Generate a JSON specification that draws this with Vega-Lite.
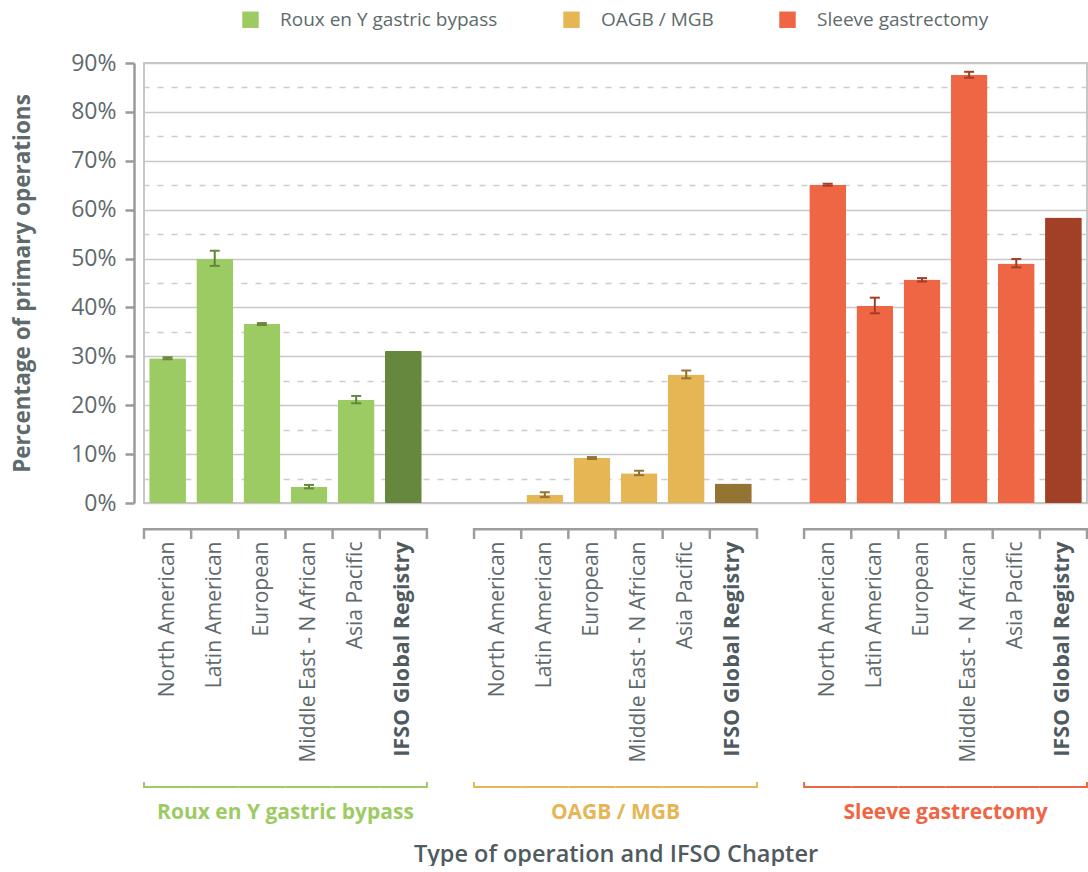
{
  "$schema": "https://vega.github.io/schema/vega-lite/v6.json",
  "background": "white",
  "padding": {"left": 10, "top": 10, "right": 0, "bottom": 0},
  "config": {"font": "Open Sans", "view": {"stroke": null}},
  "spacing": 10,
  "datasets": {
    "ops": [
      {"op": "Roux en Y gastric bypass", "chapter": "North American", "slot": "Roux en Y gastric bypass|North American", "value": 29.6, "lo": 29.4, "hi": 29.8},
      {"op": "Roux en Y gastric bypass", "chapter": "Latin American", "slot": "Roux en Y gastric bypass|Latin American", "value": 49.9, "lo": 48.5, "hi": 51.6},
      {"op": "Roux en Y gastric bypass", "chapter": "European", "slot": "Roux en Y gastric bypass|European", "value": 36.6, "lo": 36.4, "hi": 36.8},
      {"op": "Roux en Y gastric bypass", "chapter": "Middle East - N African", "slot": "Roux en Y gastric bypass|Middle East - N African", "value": 3.3, "lo": 3.0, "hi": 3.7},
      {"op": "Roux en Y gastric bypass", "chapter": "Asia Pacific", "slot": "Roux en Y gastric bypass|Asia Pacific", "value": 21.1, "lo": 20.4, "hi": 21.9},
      {"op": "Roux en Y gastric bypass", "chapter": "IFSO Global Registry", "slot": "Roux en Y gastric bypass|IFSO Global Registry", "value": 31.1, "lo": null, "hi": null},
      {"op": "OAGB / MGB", "chapter": "North American", "slot": "OAGB / MGB|North American", "value": 0, "lo": null, "hi": null},
      {"op": "OAGB / MGB", "chapter": "Latin American", "slot": "OAGB / MGB|Latin American", "value": 1.7, "lo": 1.2, "hi": 2.2},
      {"op": "OAGB / MGB", "chapter": "European", "slot": "OAGB / MGB|European", "value": 9.2, "lo": 9.0, "hi": 9.4},
      {"op": "OAGB / MGB", "chapter": "Middle East - N African", "slot": "OAGB / MGB|Middle East - N African", "value": 6.1, "lo": 5.7, "hi": 6.6},
      {"op": "OAGB / MGB", "chapter": "Asia Pacific", "slot": "OAGB / MGB|Asia Pacific", "value": 26.3, "lo": 25.5, "hi": 27.1},
      {"op": "OAGB / MGB", "chapter": "IFSO Global Registry", "slot": "OAGB / MGB|IFSO Global Registry", "value": 4.0, "lo": null, "hi": null},
      {"op": "Sleeve gastrectomy", "chapter": "North American", "slot": "Sleeve gastrectomy|North American", "value": 65.1, "lo": 64.9, "hi": 65.3},
      {"op": "Sleeve gastrectomy", "chapter": "Latin American", "slot": "Sleeve gastrectomy|Latin American", "value": 40.3, "lo": 38.8, "hi": 42.0},
      {"op": "Sleeve gastrectomy", "chapter": "European", "slot": "Sleeve gastrectomy|European", "value": 45.7, "lo": 45.3, "hi": 46.0},
      {"op": "Sleeve gastrectomy", "chapter": "Middle East - N African", "slot": "Sleeve gastrectomy|Middle East - N African", "value": 87.6, "lo": 87.0, "hi": 88.2},
      {"op": "Sleeve gastrectomy", "chapter": "Asia Pacific", "slot": "Sleeve gastrectomy|Asia Pacific", "value": 49.0, "lo": 48.2, "hi": 49.9},
      {"op": "Sleeve gastrectomy", "chapter": "IFSO Global Registry", "slot": "Sleeve gastrectomy|IFSO Global Registry", "value": 58.4, "lo": null, "hi": null}
    ]
  },
  "vconcat": [
    {
      "width": 943,
      "height": 440,
      "view": {"stroke": "#c6c6c6", "strokeWidth": 2},
      "data": {"name": "ops"},
      "resolve": {"axis": {"y": "independent"}},
      "layer": [
        {
          "transform": [{"filter": "datum.chapter !== 'IFSO Global Registry'"}],
          "mark": {"type": "bar", "cornerRadius": 1},
          "encoding": {
            "x": {"field": "slot", "type": "nominal", "axis": null, "scale": {"paddingInner": 0.22, "paddingOuter": 0.11, "domain": ["Roux en Y gastric bypass|North American", "Roux en Y gastric bypass|Latin American", "Roux en Y gastric bypass|European", "Roux en Y gastric bypass|Middle East - N African", "Roux en Y gastric bypass|Asia Pacific", "Roux en Y gastric bypass|IFSO Global Registry", "gap1", "OAGB / MGB|North American", "OAGB / MGB|Latin American", "OAGB / MGB|European", "OAGB / MGB|Middle East - N African", "OAGB / MGB|Asia Pacific", "OAGB / MGB|IFSO Global Registry", "gap2", "Sleeve gastrectomy|North American", "Sleeve gastrectomy|Latin American", "Sleeve gastrectomy|European", "Sleeve gastrectomy|Middle East - N African", "Sleeve gastrectomy|Asia Pacific", "Sleeve gastrectomy|IFSO Global Registry"]}},
            "y": {
              "field": "value", "type": "quantitative",
              "scale": {"domain": [0, 90], "nice": false},
              "axis": {
                "title": "Percentage of primary operations",
                "values": [0, 10, 20, 30, 40, 50, 60, 70, 80, 90],
                "labelExpr": "datum.value + '%'",
                "offset": 10,
                "domainColor": "#9a9a9a", "domainWidth": 2.5,
                "tickColor": "#9a9a9a", "tickWidth": 2.5, "tickSize": 9,
                "grid": true, "gridColor": "#c8c8c8", "gridWidth": 1.5,
                "labelFontSize": 23, "labelColor": "#5e6a6b", "labelPadding": 9,
                "titleFontSize": 22.5, "titleFontWeight": "bold", "titleColor": "#5e6a6b", "titlePadding": 36
              }
            },
            "color": {
              "field": "op", "type": "nominal",
              "scale": {"domain": ["Roux en Y gastric bypass", "OAGB / MGB", "Sleeve gastrectomy"], "range": ["#9dcb63", "#e6b654", "#ef6644"]},
              "legend": {"orient": "none", "legendX": 97, "legendY": -53, "direction": "horizontal", "title": null, "symbolType": "square", "symbolSize": 270, "symbolStrokeWidth": 0, "symbolOpacity": 1, "labelFontSize": 19, "labelColor": "#5e6a6b", "labelOffset": 20, "columnPadding": 64, "labelLimit": 400}
            }
          }
        },
        {
          "transform": [{"filter": "datum.chapter === 'IFSO Global Registry'"}],
          "mark": {"type": "bar", "cornerRadius": 1},
          "encoding": {
            "x": {"field": "slot", "type": "nominal", "axis": null},
            "y": {"field": "value", "type": "quantitative",
              "axis": {"title": null, "values": [5, 15, 25, 35, 45, 55, 65, 75, 85], "labels": false, "ticks": false, "domain": false, "grid": true, "gridDash": [6, 8], "gridColor": "#cccccc", "gridWidth": 1.5, "offset": 10}},
            "fill": {"field": "op", "type": "nominal", "scale": {"domain": ["Roux en Y gastric bypass", "OAGB / MGB", "Sleeve gastrectomy"], "range": ["#66883e", "#937433", "#a13f27"]}, "legend": null}
          }
        },
        {
          "transform": [{"filter": "isValid(datum.lo)"}],
          "mark": {"type": "rule", "strokeWidth": 2},
          "encoding": {
            "x": {"field": "slot", "type": "nominal", "axis": null},
            "y": {"field": "lo", "type": "quantitative", "axis": null},
            "y2": {"field": "hi"},
            "stroke": {"field": "op", "type": "nominal", "scale": {"domain": ["Roux en Y gastric bypass", "OAGB / MGB", "Sleeve gastrectomy"], "range": ["#5e8137", "#8d6e2e", "#a13d25"]}, "legend": null}
          }
        },
        {
          "transform": [{"filter": "isValid(datum.lo)"}],
          "mark": {"type": "tick", "thickness": 2, "size": 10, "opacity": 1},
          "encoding": {
            "x": {"field": "slot", "type": "nominal", "axis": null},
            "y": {"field": "hi", "type": "quantitative", "axis": null},
            "fill": {"field": "op", "type": "nominal", "legend": null}
          }
        },
        {
          "transform": [{"filter": "isValid(datum.lo)"}],
          "mark": {"type": "tick", "thickness": 2, "size": 10, "opacity": 1},
          "encoding": {
            "x": {"field": "slot", "type": "nominal", "axis": null},
            "y": {"field": "lo", "type": "quantitative", "axis": null},
            "fill": {"field": "op", "type": "nominal", "legend": null}
          }
        }
      ]
    },
    {
      "width": 943,
      "height": 11,
      "data": {"name": "ops"},
      "layer": [
        {
          "mark": {"type": "rect", "color": "#9d9d9d"},
          "encoding": {
            "x": {"field": "slot", "type": "nominal", "title": null,
              "scale": {"paddingInner": 0, "paddingOuter": 0, "domain": ["Roux en Y gastric bypass|North American", "Roux en Y gastric bypass|Latin American", "Roux en Y gastric bypass|European", "Roux en Y gastric bypass|Middle East - N African", "Roux en Y gastric bypass|Asia Pacific", "Roux en Y gastric bypass|IFSO Global Registry", "gap1", "OAGB / MGB|North American", "OAGB / MGB|Latin American", "OAGB / MGB|European", "OAGB / MGB|Middle East - N African", "OAGB / MGB|Asia Pacific", "OAGB / MGB|IFSO Global Registry", "gap2", "Sleeve gastrectomy|North American", "Sleeve gastrectomy|Latin American", "Sleeve gastrectomy|European", "Sleeve gastrectomy|Middle East - N African", "Sleeve gastrectomy|Asia Pacific", "Sleeve gastrectomy|IFSO Global Registry"]},
              "axis": {
                "title": null, "domain": false, "ticks": false, "grid": false,
                "labelAngle": -90, "labelAlign": "right", "labelBaseline": "middle",
                "labelPadding": 2, "labelLimit": 400, "labelOverlap": false,
                "labelExpr": "indexof(datum.value, '|') >= 0 ? split(datum.value, '|')[1] : ''",
                "labelFontSize": {"condition": {"test": "indexof(datum.value, 'IFSO Global') >= 0", "value": 21.5}, "value": 21},
                "labelColor": {"condition": {"test": "indexof(datum.value, 'IFSO Global') >= 0", "value": "#4f5b5f"}, "value": "#5e6a6b"},
                "labelFontWeight": {"condition": {"test": "indexof(datum.value, 'IFSO Global') >= 0", "value": "bold"}, "value": "normal"}
              }
            },
            "y": {"datum": 1, "type": "quantitative", "scale": {"domain": [0, 1]}, "axis": null},
            "y2": {"datum": 0.78}
          }
        },
        {
          "mark": {"type": "rule", "color": "#9d9d9d", "strokeWidth": 2.5},
          "encoding": {
            "x": {"field": "slot", "type": "nominal", "title": null, "bandPosition": 0},
            "y": {"datum": 1, "type": "quantitative", "axis": null},
            "y2": {"datum": 0}
          }
        },
        {
          "transform": [{"filter": "datum.chapter === 'IFSO Global Registry'"}],
          "mark": {"type": "rule", "color": "#9d9d9d", "strokeWidth": 2.5},
          "encoding": {
            "x": {"field": "slot", "type": "nominal", "title": null, "bandPosition": 1},
            "y": {"datum": 1, "type": "quantitative", "axis": null},
            "y2": {"datum": 0}
          }
        }
      ]
    },
    {
      "width": 943,
      "height": 48,
      "data": {"name": "ops"},
      "layer": [
        {
          "mark": {"type": "rect"},
          "encoding": {
            "x": {"field": "slot", "type": "nominal", "title": "Type of operation and IFSO Chapter",
              "scale": {"paddingInner": 0, "paddingOuter": 0, "domain": ["Roux en Y gastric bypass|North American", "Roux en Y gastric bypass|Latin American", "Roux en Y gastric bypass|European", "Roux en Y gastric bypass|Middle East - N African", "Roux en Y gastric bypass|Asia Pacific", "Roux en Y gastric bypass|IFSO Global Registry", "gap1", "OAGB / MGB|North American", "OAGB / MGB|Latin American", "OAGB / MGB|European", "OAGB / MGB|Middle East - N African", "OAGB / MGB|Asia Pacific", "OAGB / MGB|IFSO Global Registry", "gap2", "Sleeve gastrectomy|North American", "Sleeve gastrectomy|Latin American", "Sleeve gastrectomy|European", "Sleeve gastrectomy|Middle East - N African", "Sleeve gastrectomy|Asia Pacific", "Sleeve gastrectomy|IFSO Global Registry"]},
              "axis": {"title": "Type of operation and IFSO Chapter", "labels": false, "ticks": false, "domain": false, "grid": false, "titleFontSize": 23.5, "titleFontWeight": 600, "titleColor": "#4f5b5f", "titlePadding": 21}
            },
            "y": {"datum": 0.729, "type": "quantitative", "scale": {"domain": [0, 1]}, "axis": null},
            "y2": {"datum": 0.6875},
            "color": {"field": "op", "type": "nominal", "legend": null}
          }
        },
        {
          "transform": [{"filter": "datum.chapter === 'North American'"}],
          "mark": {"type": "rule", "strokeWidth": 2},
          "encoding": {
            "x": {"field": "slot", "type": "nominal", "title": "Type of operation and IFSO Chapter", "bandPosition": 0},
            "y": {"datum": 0.8125, "type": "quantitative", "axis": null},
            "y2": {"datum": 0.6875},
            "color": {"field": "op", "type": "nominal", "legend": null}
          }
        },
        {
          "transform": [{"filter": "datum.chapter === 'IFSO Global Registry'"}],
          "mark": {"type": "rule", "strokeWidth": 2},
          "encoding": {
            "x": {"field": "slot", "type": "nominal", "title": "Type of operation and IFSO Chapter", "bandPosition": 1},
            "y": {"datum": 0.8125, "type": "quantitative", "axis": null},
            "y2": {"datum": 0.6875},
            "color": {"field": "op", "type": "nominal", "legend": null}
          }
        },
        {
          "transform": [{"filter": "datum.chapter === 'European'"}],
          "mark": {"type": "text", "fontSize": 21, "fontWeight": "bold", "align": "center", "baseline": "middle"},
          "encoding": {
            "x": {"field": "slot", "type": "nominal", "title": "Type of operation and IFSO Chapter", "bandPosition": 1},
            "y": {"datum": 0.1667, "type": "quantitative", "axis": null},
            "text": {"field": "op"},
            "color": {"field": "op", "type": "nominal", "legend": null}
          }
        }
      ]
    }
  ],
  "resolve": {"scale": {"x": "independent", "y": "independent", "color": "shared"}}
}
